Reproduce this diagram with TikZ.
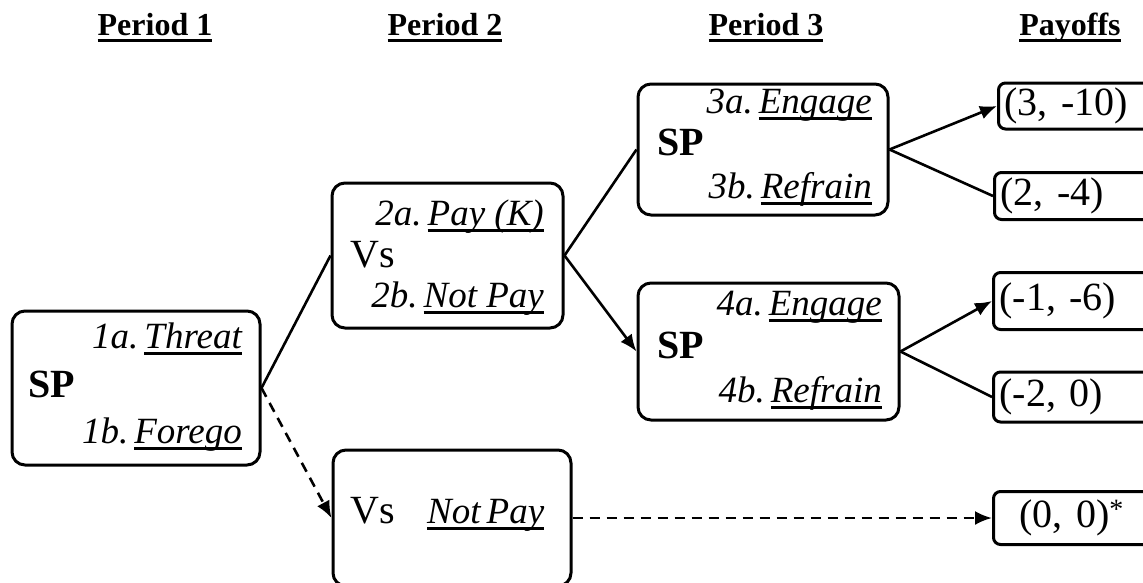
\documentclass[tikz,border=0pt]{standalone}
\usepackage{fontspec}
\setmainfont{Liberation Serif}
\usetikzlibrary{arrows.meta}
\newcommand{\ulc}[1]{\setbox0\hbox{#1}\rlap{\rule[-7pt]{\wd0}{2.8pt}}\box0}
\tikzset{
  tip/.style={-{Latex[length=17pt,width=14pt]}},
  dashline/.style={dash pattern=on 10pt off 7pt}
}

\begin{document}
\begin{tikzpicture}[x=1pt,y=-1pt]

      \clip (0,0) rectangle (1143,582);

      \begin{scope}[every node/.style={anchor=base,inner sep=0pt,font=\fontsize{32}{36}\selectfont\bfseries}]
        \node (h1) at (155,35)  {\ulc{Period 1}};
        \node (h2) at (445,35)  {\ulc{Period 2}};
        \node (h3) at (766,35)  {\ulc{Period 3}};
        \node (h4) at (1070,35) {\ulc{Payoffs}};
      \end{scope}

      \begin{scope}[every node/.style={draw,rounded corners=13pt,line width=3pt,inner sep=0pt}]
        \node[minimum width=248pt,minimum height=154pt] (sp1) at (136,388)   {};
        \node[minimum width=231pt,minimum height=145pt] (vs2) at (447.5,255.5) {};
        \node[minimum width=250pt,minimum height=131pt] (sp3) at (763,149.5) {};
        \node[minimum width=261pt,minimum height=137pt] (sp4) at (768.5,351.5) {};
        \node[minimum width=238pt,minimum height=136pt] (vs5) at (452,518)   {};
      \end{scope}

      \begin{scope}[every node/.style={anchor=base east,inner sep=0pt,font=\fontsize{37}{40}\selectfont\itshape}]
        \node (m1a) at (242,348) {1a.\kern6pt\ulc{Threat}};
        \node (m1b) at (242,443) {1b.\kern6pt\ulc{Forego}};
        \node (m2a) at (544,225) {2a.\kern6pt\ulc{Pay (K)}};
        \node (m2b) at (544,307) {2b.\kern6pt\ulc{Not Pay}};
        \node (m3a) at (872,113) {3a.\kern6pt\ulc{Engage}};
        \node (m3b) at (872,198) {3b.\kern6pt\ulc{Refrain}};
        \node (m4a) at (882,315) {4a.\kern6pt\ulc{Engage}};
        \node (m4b) at (882,402) {4b.\kern6pt\ulc{Refrain}};
        \node[anchor=base west] (m5) at (427,523) {\ulc{Not\kern6pt Pay}};
      \end{scope}

      \begin{scope}[every node/.style={anchor=base west,inner sep=0pt,font=\fontsize{40}{44}\selectfont}]
        \node (p1) at (28,397)  {\textbf{SP}};
        \node (p2) at (350,267) {Vs};
        \node (p3) at (657,155) {\textbf{SP}};
        \node (p4) at (657,358) {\textbf{SP}};
        \node (p5) at (350,523) {Vs};
      \end{scope}

      \begin{scope}[every node/.style={draw,rounded corners=7pt,line width=3pt,anchor=west,inner xsep=6pt,inner ysep=0pt,text width=200pt,font=\fontsize{40}{44}\selectfont}]
        \node[minimum height=46pt] (o1) at (997,106) {(3, -10)};
        \node[minimum height=47pt] (o2) at (993,196) {(2, -4)};
        \node[minimum height=57pt] (o3) at (992,301) {(-1, -6)};
        \node[minimum height=50pt] (o4) at (992,397) {(-2, 0)};
        \node[minimum height=53pt] (o5) at (992,518) {\hspace*{20pt}(0, 0)\textsuperscript{*}};
      \end{scope}

      \begin{scope}[every edge/.style={draw,line width=2.6pt}]
        \path (sp1.east) edge (vs2.west);
        \path (sp1.east) edge[dashline,tip] (vs5.west);
        \path (vs2.east) edge (sp3.west);
        \path (vs2.east) edge[tip] (sp4.west);
        \path (sp3.east) edge[tip] (o1.west);
        \path (sp3.east) edge (o2.west);
        \path (sp4.east) edge[tip] (o3.west);
        \path (sp4.east) edge (o4.west);
        \path (vs5.east) edge[dashline,tip] (o5.west);
      \end{scope}

    \end{tikzpicture}
\end{document}
